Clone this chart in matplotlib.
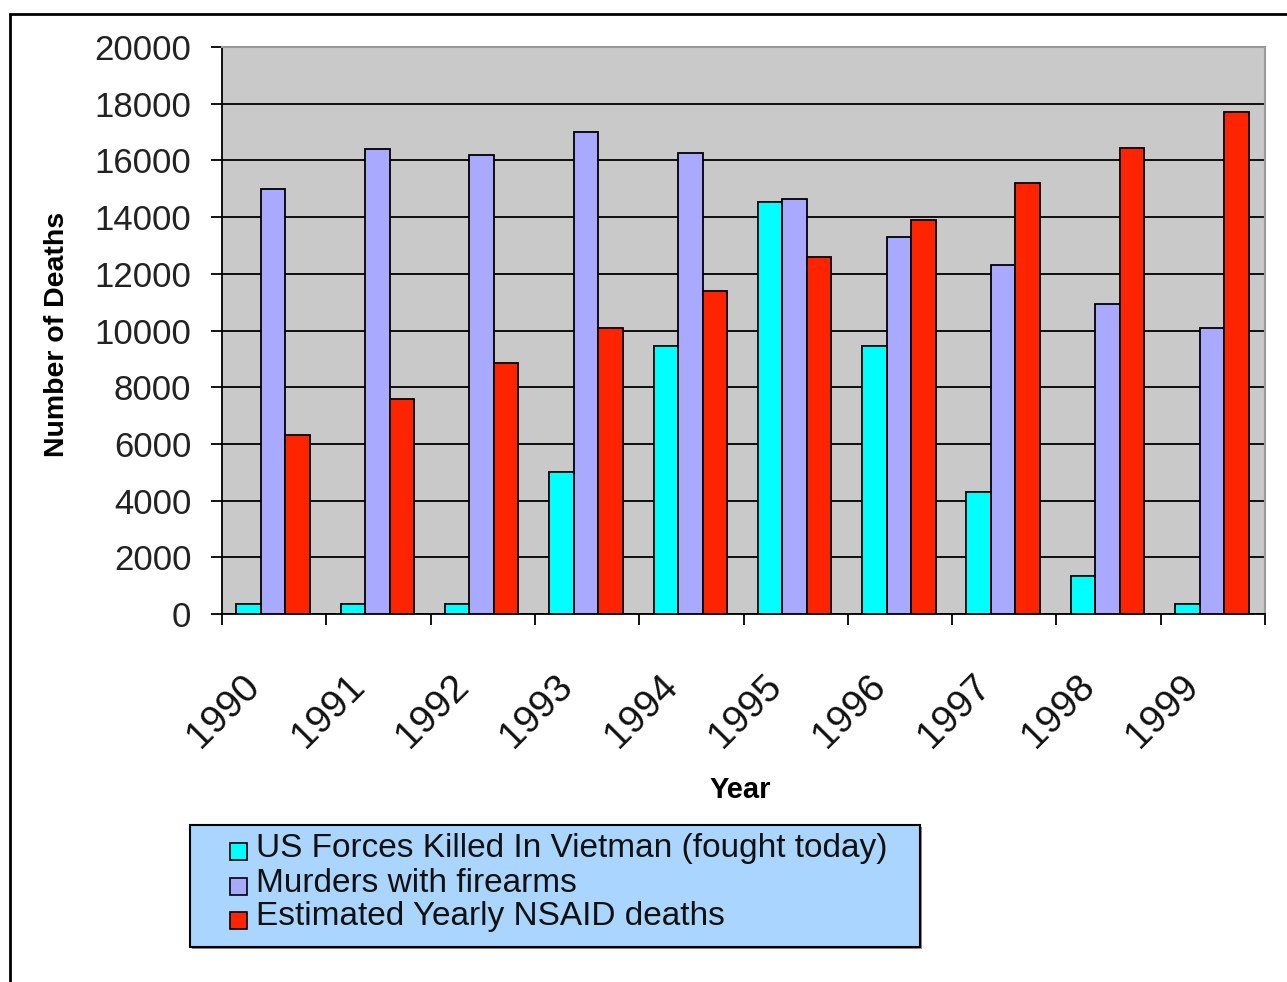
import matplotlib.pyplot as plt
import numpy as np
from matplotlib.patches import Rectangle
from matplotlib.transforms import blended_transform_factory

plt.rcParams['font.family'] = ['Liberation Sans', 'DejaVu Sans']

years = ['1990', '1991', '1992', '1993', '1994', '1995', '1996', '1997', '1998', '1999']
vietnam = [350, 350, 350, 5000, 9450, 14550, 9450, 4300, 1350, 350]
firearms = [15000, 16400, 16200, 17000, 16250, 14650, 13300, 12300, 10950, 10100]
nsaid = [6300, 7600, 8850, 10100, 11400, 12600, 13900, 15200, 16450, 17700]
series_labels = ['US Forces Killed In Vietman (fought today)',
                 'Murders with firearms',
                 'Estimated Yearly NSAID deaths']
colors = ['#00FFFF', '#A9A9FF', '#FF2400']

W, H = 1287, 982
fig = plt.figure(figsize=(W / 100, H / 100), dpi=100)
ax = fig.add_axes([222 / W, 1 - 614 / H, (1265 - 222) / W, (614 - 47) / H])
ax.set_facecolor('#C9C9C9')

x = np.arange(len(years))
bw = 0.235
for k, (vals, c) in enumerate(zip([vietnam, firearms, nsaid], colors)):
    ax.bar(x + (k - 1) * bw - 0.01, vals, width=bw, color=c, edgecolor='black',
           linewidth=1.3, zorder=3)

ax.set_xlim(-0.5, len(years) - 0.5)
ax.set_ylim(0, 20000)
ax.set_yticks(np.arange(0, 20001, 2000))
ax.yaxis.grid(True, color='black', linewidth=1.3, zorder=1)
ax.set_axisbelow(True)
ax.tick_params(axis='y', length=8, width=1.3, pad=14, labelsize=25,
               labelcolor='#222222')
ax.set_xticks(np.arange(-0.5, len(years), 1.0))
ax.set_xticklabels([])
ax.tick_params(axis='x', length=8, width=1.3)

for side in ['top', 'right']:
    ax.spines[side].set_color('#9A9A9A')
    ax.spines[side].set_linewidth(1.5)
for side in ['left', 'bottom']:
    ax.spines[side].set_color('black')
    ax.spines[side].set_linewidth(1.3)

# year labels, slanted, ending just left of each category centre
trans = blended_transform_factory(ax.transData, ax.transAxes)
for i, yr in enumerate(years):
    ax.text(i - 0.31, -0.095, yr, transform=trans, rotation=45,
            ha='right', va='top', rotation_mode='anchor', fontsize=28,
            color='#111111')

fig.text(740 / W, 1 - 790 / H, 'Year', ha='center', va='center',
         fontsize=21, fontweight='bold')
fig.text(57 / W, 1 - 334 / H, 'Number of Deaths', ha='center', va='center',
         rotation=90, fontsize=20.5, fontweight='bold')

# legend box, drawn by hand
lx0, ly0, lx1, ly1 = 190, 825, 920, 947
fig.add_artist(Rectangle(((lx0 + 2) / W, 1 - (ly1 + 2) / H),
                         (lx1 - lx0) / W, (ly1 - ly0) / H,
                         transform=fig.transFigure, facecolor='#8A8A8A',
                         edgecolor='none'))
fig.add_artist(Rectangle((lx0 / W, 1 - ly1 / H), (lx1 - lx0) / W,
                         (ly1 - ly0) / H, transform=fig.transFigure,
                         facecolor='#A9D5FF', edgecolor='black', linewidth=1.5))
row_y = [848, 883, 917]
for lab, c, ry in zip(series_labels, colors, row_y):
    fig.add_artist(Rectangle((230 / W, 1 - (ry + 12) / H), 17 / W, 17 / H,
                             transform=fig.transFigure, facecolor=c,
                             edgecolor='black', linewidth=1.2))
    fig.text(256 / W, 1 - ry / H, lab, ha='left', va='center', fontsize=24,
             color='#111111')

# outer chart frame (runs off the right and bottom edges)
fig.add_artist(Rectangle((10 / W, -0.1), 1.2, 1 - 14 / H + 0.1,
                         transform=fig.transFigure, fill=False,
                         edgecolor='black', linewidth=2))

fig.savefig('out.png', dpi=100, facecolor='white')
